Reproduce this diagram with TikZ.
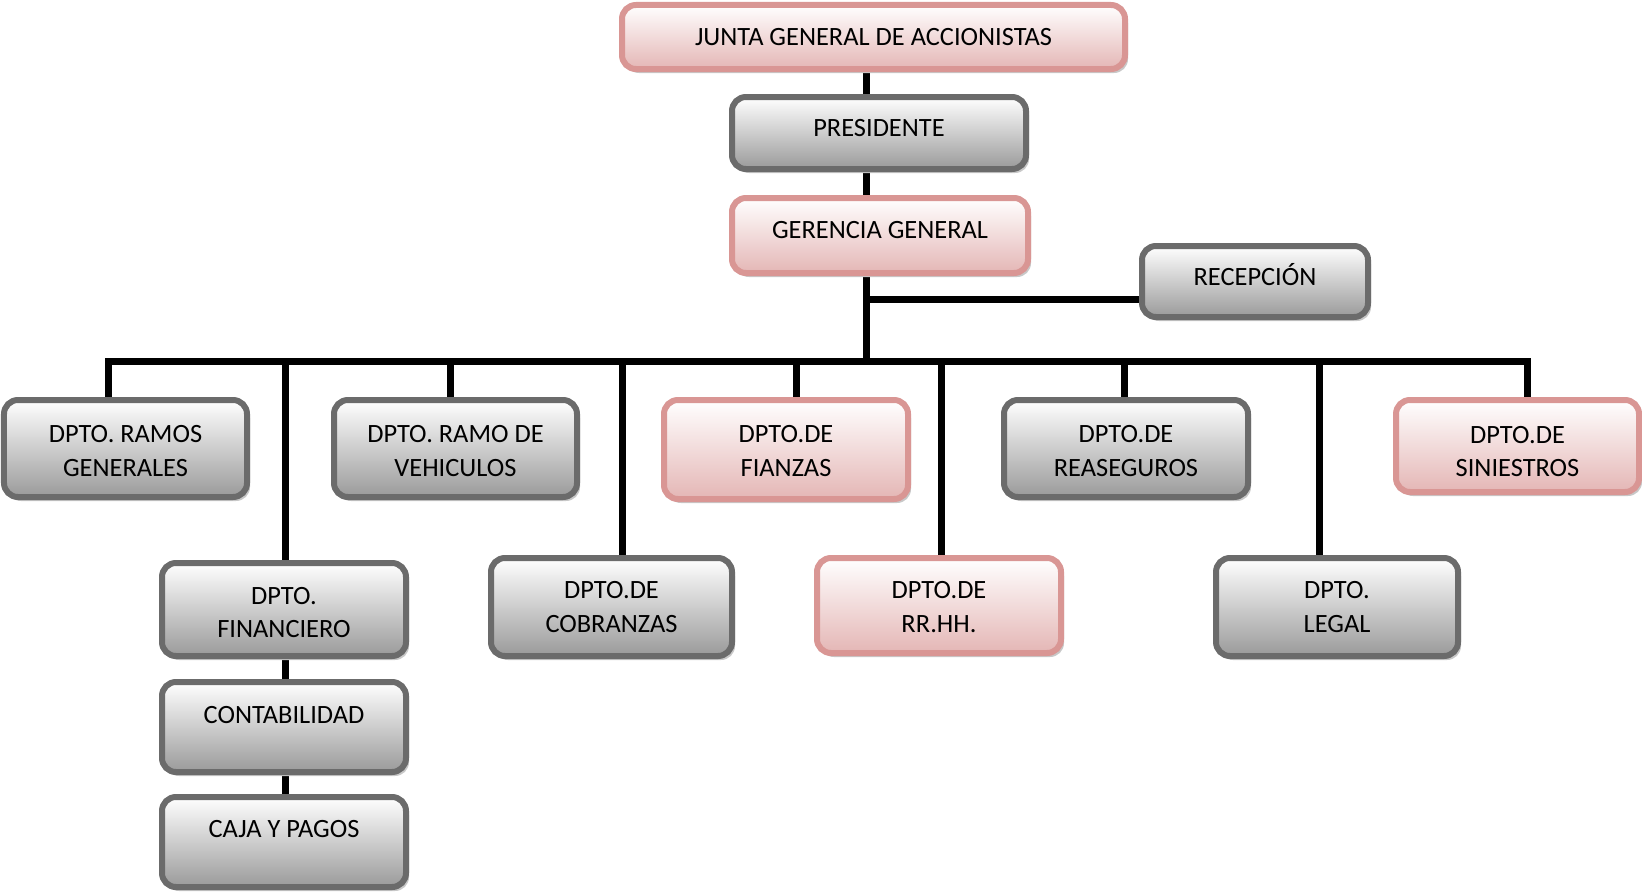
\documentclass[tikz,border=0pt]{standalone}
\usepackage{fontspec}
\setmainfont{Carlito}
\usetikzlibrary{shadows,backgrounds}

\definecolor{greyedge}{HTML}{6B6B6B}
\definecolor{greylow}{HTML}{9A9A9A}
\definecolor{pinkedge}{HTML}{D99694}
\definecolor{pinklow}{HTML}{E4B6B5}
\definecolor{shadowgrey}{HTML}{C8C8C8}

\tikzset{
  boxfont/.style={font=\fontsize{26.5}{33.5}\selectfont, text=black},
  box/.style={rounded corners=14bp, line width=6bp, align=center, inner sep=0pt, boxfont,
    drop shadow={shadow xshift=3bp, shadow yshift=-4bp, fill=shadowgrey, opacity=1}},
  greybox/.style={box, draw=greyedge, top color=white, bottom color=greylow},
  pinkbox/.style={box, draw=pinkedge, top color=white, bottom color=pinklow},
  % single-line label lifted above the box centre by #1
  lifted/.style={text height=17bp, text depth=2*#1},
  % two-line caption set on top of a box
  captext/.style={boxfont, align=center, inner sep=0pt},
  wire/.style={line width=7bp, black, line join=miter},
}

\begin{document}
\begin{tikzpicture}[x=1bp, y=-1bp]
\useasboundingbox (0,0) rectangle (1642,893);

% top of the hierarchy
\node[pinkbox, minimum width=503bp, minimum height=64bp] (junta) at (873.5,37) {JUNTA GENERAL DE ACCIONISTAS};
\node[greybox, lifted=5bp, minimum width=294bp, minimum height=72bp] (pres) at (879,133) {PRESIDENTE};
\node[pinkbox, lifted=6bp, minimum width=296bp, minimum height=75bp] (ger) at (880,235.5) {GERENCIA GENERAL};
\node[greybox, lifted=5bp, minimum width=226bp, minimum height=71bp] (recep) at (1255,281.5) {RECEPCIÓN};

% first row of departments
\node[greybox, minimum width=243bp, minimum height=97bp,
  label={[captext, name=ramostxt, yshift=-2.6bp]center:DPTO. RAMOS\\GENERALES}] (ramos) at (125.5,448.5) {};
\node[greybox, minimum width=243bp, minimum height=97bp,
  label={[captext, name=vehictxt, yshift=-2.6bp]center:DPTO. RAMO DE\\VEHICULOS}] (vehic) at (455.5,448.5) {};
\node[pinkbox, minimum width=244bp, minimum height=99bp,
  label={[captext, name=fianzastxt, yshift=-1.6bp]center:DPTO.DE\\FIANZAS}] (fianzas) at (786,449.5) {};
\node[greybox, minimum width=244bp, minimum height=97bp,
  label={[captext, name=reasegtxt, yshift=-2.6bp]center:DPTO.DE\\REASEGUROS}] (reaseg) at (1126,448.5) {};
\node[pinkbox, minimum width=243bp, minimum height=92bp,
  label={[captext, name=siniestxt, yshift=-5.5bp]center:DPTO.DE\\SINIESTROS}] (sinies) at (1517.5,446) {};

% second row of departments
\node[greybox, minimum width=244bp, minimum height=93bp,
  label={[captext, name=financtxt, yshift=-3bp]center:DPTO.\\FINANCIERO}] (financ) at (284,609.5) {};
\node[greybox, minimum width=241bp, minimum height=98bp,
  label={[captext, name=cobrtxt]center:DPTO.DE\\COBRANZAS}] (cobr) at (611.5,607) {};
\node[pinkbox, minimum width=244bp, minimum height=95bp,
  label={[captext, name=rrhhtxt, yshift=-1.6bp]center:DPTO.DE\\RR.HH.}] (rrhh) at (939,605.5) {};
\node[greybox, minimum width=242bp, minimum height=98bp,
  label={[captext, name=legaltxt]center:DPTO.\\LEGAL}] (legal) at (1337,607) {};

% finance sub-units
\node[greybox, lifted=12bp, minimum width=244bp, minimum height=90bp] (contab) at (284,727) {CONTABILIDAD};
\node[greybox, lifted=13bp, minimum width=244bp, minimum height=90bp] (caja) at (284,842) {CAJA Y PAGOS};

% connectors
\coordinate (hub) at (866,361);
\coordinate (tap) at (866,299.5);
\coordinate (busL) at (108,361);
\coordinate (busR) at (1527,361);
\coordinate (tfin) at (285,361);
\coordinate (tveh) at (450,361);
\coordinate (tcob) at (622,361);
\coordinate (tfia) at (796,361);
\coordinate (trrh) at (941,361);
\coordinate (trea) at (1124,361);
\coordinate (tleg) at (1319,361);

\begin{scope}[on background layer]
  \draw[wire] (junta.south -| hub) -- (pres.north -| hub);
  \draw[wire] (pres.south -| hub) -- (ger.north -| hub);
  \draw[wire] (ger.south -| hub) -- (hub);
  \draw[wire] (tap) -- (tap -| recep.west);
  \draw[wire] (busL |- ramos.north) -- (busL) -- (busR) -- (busR |- sinies.north);
  \draw[wire] (tfin) -- (tfin |- financ.north);
  \draw[wire] (tveh) -- (tveh |- vehic.north);
  \draw[wire] (tcob) -- (tcob |- cobr.north);
  \draw[wire] (tfia) -- (tfia |- fianzas.north);
  \draw[wire] (trrh) -- (trrh |- rrhh.north);
  \draw[wire] (trea) -- (trea |- reaseg.north);
  \draw[wire] (tleg) -- (tleg |- legal.north);
  \draw[wire] (financ.south -| tfin) -- (contab.north -| tfin);
  \draw[wire] (contab.south -| tfin) -- (caja.north -| tfin);
\end{scope}
\end{tikzpicture}
\end{document}
